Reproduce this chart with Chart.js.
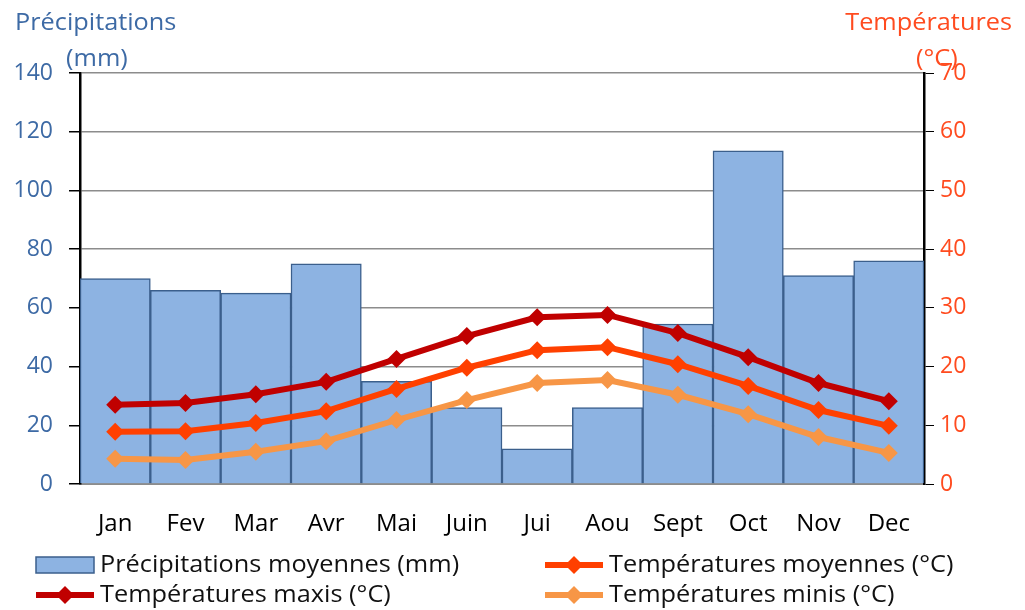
<!DOCTYPE html>
<html>
<head>
<meta charset="utf-8">
<script src="https://cdn.jsdelivr.net/npm/chart.js@4"></script>
<style>
  html, body { margin: 0; padding: 0; background: #fff; }
  #wrap { width: 1025px; height: 610px; position: relative; }
</style>
</head>
<body>
<div id="wrap"><canvas id="climate-chart" width="1025" height="610"></canvas></div>
<script>
const months = ['Jan', 'Fev', 'Mar', 'Avr', 'Mai', 'Juin', 'Jui', 'Aou', 'Sept', 'Oct', 'Nov', 'Dec'];
const precipitations = [70, 66, 65, 75, 35, 26, 12, 26, 54.5, 113.5, 71, 76];
const tempMaxis = [13.5, 13.8, 15.3, 17.4, 21.3, 25.2, 28.4, 28.8, 25.7, 21.6, 17.2, 14.1];
const tempMoyennes = [8.9, 9.0, 10.4, 12.4, 16.2, 19.8, 22.8, 23.3, 20.4, 16.7, 12.6, 9.9];
const tempMinis = [4.3, 4.1, 5.5, 7.3, 10.9, 14.3, 17.2, 17.7, 15.2, 11.9, 8.0, 5.3];
const precipTicks = [0, 20, 40, 60, 80, 100, 120, 140];
const tempTicks = [0, 10, 20, 30, 40, 50, 60, 70];

const FONT = '"Open Sans", Lato, sans-serif';
const FSIZE = 23;
const BLUE_TXT = '#3D6AA5';
const RED_TXT = '#FF4B1F';
const BAR_FILL = '#8DB3E2';
const BAR_EDGE = '#3B5F8C';
const C_MAX = '#C00000';
const C_MOY = '#FF4000';
const C_MIN = '#F79646';

function lineDataset(label, data, color) {
    return {
        type: 'line',
        label: label,
        data: data,
        yAxisID: 'y2',
        borderColor: color,
        backgroundColor: color,
        borderWidth: 6,
        pointStyle: 'rectRot',
        pointRadius: 9,
        pointBorderWidth: 0,
        tension: 0,
        order: 1,
    };
}

// text slightly stretched sideways, like the original export
function wideText(ctx, text, x, y, align) {
    const sx = 1.1;
    const w = ctx.measureText(text).width * sx;
    const left = align === 'right' ? x - w : x;
    ctx.save();
    ctx.textAlign = 'left';
    ctx.translate(left, y);
    ctx.scale(sx, 1);
    ctx.fillText(text, 0, 0);
    ctx.restore();
}

// titles and the two-column legend
const decorations = {
    id: 'decorations',
    afterDraw(chart) {
        const ctx = chart.ctx;
        ctx.save();
        ctx.font = FSIZE + 'px ' + FONT;
        ctx.textBaseline = 'middle';

        ctx.fillStyle = BLUE_TXT;
        wideText(ctx, 'Précipitations', 15, 23, 'left');
        wideText(ctx, '(mm)', 66, 59, 'left');

        ctx.fillStyle = RED_TXT;
        wideText(ctx, 'Températures', 1012, 23, 'right');
        wideText(ctx, '(°C)', 916, 59, 'left');

        const items = [
            { type: 'bar', text: 'Précipitations moyennes (mm)', x: 36, y: 565 },
            { type: 'line', color: C_MOY, text: 'Températures moyennes (°C)', x: 545, y: 565 },
            { type: 'line', color: C_MAX, text: 'Températures maxis (°C)', x: 36, y: 595 },
            { type: 'line', color: C_MIN, text: 'Températures minis (°C)', x: 545, y: 595 },
        ];
        for (const it of items) {
            if (it.type === 'bar') {
                ctx.fillStyle = BAR_FILL;
                ctx.fillRect(it.x, it.y - 8, 58, 16);
                ctx.strokeStyle = BAR_EDGE;
                ctx.lineWidth = 1.5;
                ctx.strokeRect(it.x, it.y - 8, 58, 16);
            } else {
                ctx.strokeStyle = it.color;
                ctx.lineWidth = 6;
                ctx.beginPath();
                ctx.moveTo(it.x, it.y);
                ctx.lineTo(it.x + 58, it.y);
                ctx.stroke();
                ctx.fillStyle = it.color;
                ctx.beginPath();
                const cx = it.x + 29;
                ctx.moveTo(cx, it.y - 9);
                ctx.lineTo(cx + 9, it.y);
                ctx.lineTo(cx, it.y + 9);
                ctx.lineTo(cx - 9, it.y);
                ctx.closePath();
                ctx.fill();
            }
            ctx.fillStyle = '#111';
            wideText(ctx, it.text, it.x + 64, it.y, 'left');
        }
        ctx.restore();
    }
};

const ctx = document.getElementById('climate-chart').getContext('2d');
const climateChart = new Chart(ctx, {
    data: {
        labels: months,
        datasets: [
            lineDataset('Températures maxis (°C)', tempMaxis, C_MAX),
            lineDataset('Températures moyennes (°C)', tempMoyennes, C_MOY),
            lineDataset('Températures minis (°C)', tempMinis, C_MIN),
            {
                type: 'bar',
                label: 'Précipitations moyennes (mm)',
                data: precipitations,
                yAxisID: 'y',
                backgroundColor: BAR_FILL,
                borderColor: BAR_EDGE,
                borderWidth: 1.5,
                barPercentage: 1,
                categoryPercentage: 1,
                order: 10,
            },
        ]
    },
    options: {
        responsive: false,
        animation: false,
        layout: { padding: { top: 73, bottom: 66, left: 0, right: 0 } },
        plugins: {
            legend: { display: false },
            tooltip: { enabled: false },
        },
        scales: {
            x: {
                grid: { display: false, drawTicks: false },
                border: { color: '#8C8C8C', width: 2 },
                ticks: { color: '#000', font: { family: FONT, size: 24 }, padding: 26 },
                afterFit(scale) { scale.height = 60; },
            },
            y: {
                position: 'left',
                min: 0,
                max: 140,
                afterBuildTicks(scale) { scale.ticks = precipTicks.map(v => ({ value: v })); },
                grid: { color: '#8C8C8C', lineWidth: 1.5, tickColor: '#000', tickLength: 11 },
                border: { color: '#000', width: 2.5 },
                ticks: { color: BLUE_TXT, font: { family: FONT, size: FSIZE }, padding: 16 },
                afterFit(scale) { scale.width = 80; },
            },
            y2: {
                position: 'right',
                min: 0,
                max: 70,
                afterBuildTicks(scale) { scale.ticks = tempTicks.map(v => ({ value: v })); },
                grid: { drawOnChartArea: false, tickColor: '#000', tickLength: 10 },
                border: { color: '#000', width: 2.5 },
                ticks: { color: RED_TXT, font: { family: FONT, size: FSIZE }, padding: 6 },
                afterFit(scale) { scale.width = 101; },
            },
        }
    },
    plugins: [decorations]
});
</script>
</body>
</html>
